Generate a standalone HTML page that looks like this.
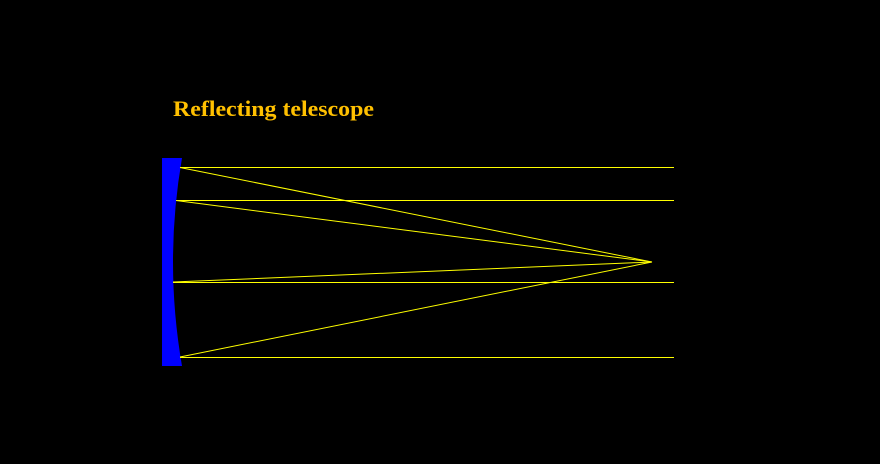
<!DOCTYPE html>
<html><head><meta charset="utf-8"><style>html,body{margin:0;padding:0;background:#000;width:880px;height:464px;overflow:hidden}</style></head>
<body>
<svg width="880" height="464" viewBox="0 0 880 464" xmlns="http://www.w3.org/2000/svg">
<rect width="880" height="464" fill="#000"/>
<text x="173" y="116" font-family="Liberation Serif, serif" font-weight="bold" font-size="22" fill="#ffc000" textLength="201" lengthAdjust="spacingAndGlyphs">Reflecting telescope</text>
<path d="M162 158 L182 158 Q164 262 182 366 L162 366 Z" fill="#0000ff"/>
<g stroke="#ffff00" stroke-width="1" fill="none">
<line x1="180" y1="167.5" x2="674" y2="167.5"/>
<line x1="176" y1="200.5" x2="674" y2="200.5"/>
<line x1="173" y1="282.5" x2="674" y2="282.5"/>
<line x1="180" y1="357.5" x2="674" y2="357.5"/>
<line x1="180" y1="167.5" x2="652" y2="262"/>
<line x1="176" y1="200.5" x2="652" y2="262"/>
<line x1="173" y1="282" x2="652" y2="262"/>
<line x1="180" y1="357" x2="652" y2="262"/>
</g>
</svg>
</body></html>
